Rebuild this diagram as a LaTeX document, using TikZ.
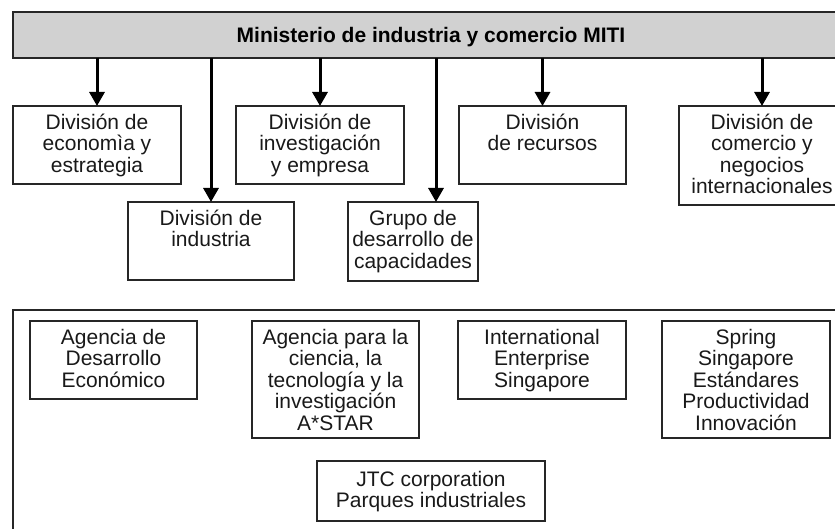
\documentclass[tikz,border=0pt]{standalone}
\usepackage{fontspec}
\setmainfont{Liberation Sans}
\usetikzlibrary{arrows.meta}

\tikzset{
  unit/.style={draw=black!85, line width=1.2pt, outer sep=0pt, inner sep=0pt, anchor=north west},
  unittext/.style={anchor=north, align=center, inner sep=0pt, text=black!90,
    font=\fontsize{21}{21.5}\selectfont, yshift=-7.8pt},
  link/.style={line width=3pt, -{Triangle[width=15pt,length=14pt]}},
}

\begin{document}
\begin{tikzpicture}[x=1pt, y=-1pt]
    \useasboundingbox (0,0) rectangle (835,529);
    \clip (0,0) rectangle (835,529);
    % ministry bar
    \node[unit, fill=black!18, minimum width=836pt, minimum height=46pt,
          font=\fontsize{21}{21.5}\selectfont\bfseries, text depth=0pt]
        (miti) at (13,12) {Ministerio de industria y comercio MITI};
    % divisions
    \node[unit, minimum width=168pt, minimum height=78pt] (econ)   at (13,106)  {};
    \node[unit, minimum width=166pt, minimum height=78pt] (indus)  at (128,202) {};
    \node[unit, minimum width=168pt, minimum height=78pt] (invest) at (236,106) {};
    \node[unit, minimum width=130pt, minimum height=79pt] (grupo)  at (348,202) {};
    \node[unit, minimum width=167pt, minimum height=78pt] (recur)  at (459,106) {};
    \node[unit, minimum width=166pt, minimum height=99pt] (comer)  at (679,106) {};
    \node[unittext] (econ-t)   at (econ.north)   {División de\\economìa y\\estrategia};
    \node[unittext] (indus-t)  at (indus.north)  {División de\\industria};
    \node[unittext] (invest-t) at (invest.north) {División de\\investigación\\y empresa};
    \node[unittext] (grupo-t)  at (grupo.north)  {Grupo de\\desarrollo de\\capacidades};
    \node[unittext] (recur-t)  at (recur.north)  {División\\de recursos};
    \node[unittext] (comer-t)  at (comer.north)  {División de\\comercio y\\negocios\\internacionales};
    % arrows
    \coordinate (g) at ([xshift=23pt]grupo.north);
    \draw[link] (miti.south -| econ.north)   -- (econ.north);
    \draw[link] (miti.south -| indus.north)  -- (indus.north);
    \draw[link] (miti.south -| invest.north) -- (invest.north);
    \draw[link] (miti.south -| g)            -- (g);
    \draw[link] (miti.south -| recur.north)  -- (recur.north);
    \draw[link] (miti.south -| comer.north)  -- (comer.north);
    % agencies
    \draw[draw=black!85, line width=1.2pt] (850,310) -- (13,310) -- (13,540);
    \node[unit, minimum width=167pt, minimum height=78pt]  (eda)    at (30,321)  {};
    \node[unit, minimum width=167pt, minimum height=117pt] (astar)  at (252,321) {};
    \node[unit, minimum width=168pt, minimum height=78pt]  (ies)    at (458,321) {};
    \node[unit, minimum width=168pt, minimum height=117pt] (spring) at (662,321) {};
    \node[unit, minimum width=228pt, minimum height=60pt]  (jtc)    at (317,461) {};
    \node[unittext] (eda-t)    at (eda.north)    {Agencia de\\Desarrollo\\Económico};
    \node[unittext] (astar-t)  at (astar.north)  {Agencia para la\\ciencia, la\\tecnología y la\\investigación\\A*STAR};
    \node[unittext] (ies-t)    at (ies.north)    {International\\Enterprise\\Singapore};
    \node[unittext] (spring-t) at (spring.north) {Spring\\Singapore\\Estándares\\Productividad\\Innovación};
    \node[unittext, yshift=-2pt] (jtc-t) at (jtc.north) {JTC corporation\\Parques industriales};
\end{tikzpicture}
\end{document}
